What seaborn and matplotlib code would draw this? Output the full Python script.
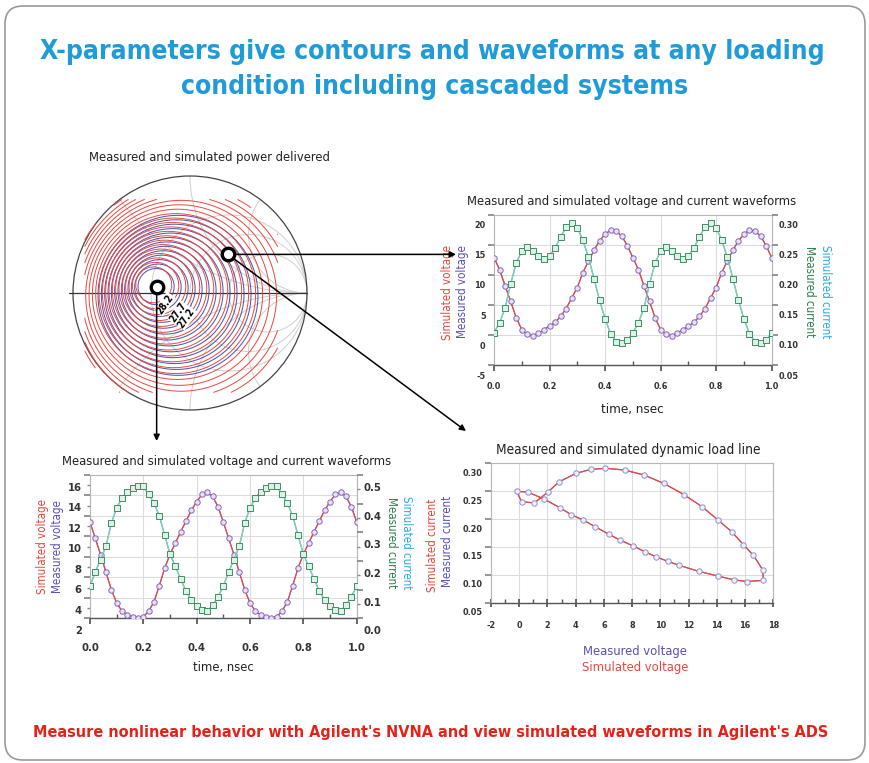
import numpy as np
import pandas as pd
import matplotlib
matplotlib.use("Agg")
import matplotlib.pyplot as plt
import seaborn as sns
from matplotlib import font_manager
from matplotlib.patches import Circle, FancyBboxPatch
from matplotlib.ticker import MultipleLocator, FormatStrFormatter
from matplotlib.transforms import ScaledTranslation, blended_transform_factory

# ---------------- data ----------------
# one period (0.5 ns) of the waveforms, sampled every 0.02 ns
T_NS = [0.00, 0.02, 0.04, 0.06, 0.08, 0.10, 0.12, 0.14, 0.16, 0.18, 0.20, 0.22,
        0.24, 0.26, 0.28, 0.30, 0.32, 0.34, 0.36, 0.38, 0.40, 0.42, 0.44, 0.46, 0.48]
PERIOD_NS = 0.5

# upper-right chart (load at the second marker)
V_LOAD = [12.9, 10.9, 8.2, 5.6, 2.9, 0.9, 0.1, -0.1, 0.3, 0.9, 1.5, 2.1,
          3.1, 4.4, 6.2, 7.9, 10.4, 12.3, 14.1, 15.7, 16.8, 17.5, 17.3, 16.5, 14.9]
I_LOAD = [0.104, 0.120, 0.145, 0.185, 0.220, 0.240, 0.247, 0.240, 0.231, 0.226, 0.232, 0.245,
          0.264, 0.280, 0.287, 0.279, 0.258, 0.230, 0.194, 0.158, 0.127, 0.102, 0.089, 0.087, 0.091]

# lower-left chart (load at the optimum)
V_MATCH = [11.4, 9.8, 8.2, 6.5, 4.8, 3.5, 2.7, 2.35, 2.15, 2.05, 2.15, 2.7,
           3.6, 5.2, 6.9, 8.25, 9.35, 10.45, 11.5, 12.55, 13.4, 14.1, 14.3, 13.9, 12.9]
I_MATCH = [0.112, 0.162, 0.205, 0.252, 0.332, 0.385, 0.420, 0.442, 0.455, 0.462, 0.460, 0.432,
           0.402, 0.357, 0.290, 0.224, 0.181, 0.137, 0.095, 0.063, 0.043, 0.029, 0.026, 0.045, 0.076]

# dynamic load line, points in drawing order
V_LL = [-0.19, 0.17, 1.07, 2.01, 2.84, 4.03, 5.05, 6.11, 7.46, 8.84, 10.24, 11.66, 12.96,
        14.05, 15.07, 15.88, 16.59, 17.25, 17.3, 16.11, 15.21, 14.05, 12.75, 11.33, 10.55,
        9.72, 8.93, 8.06, 7.16, 6.33, 5.40, 4.55, 3.67, 2.91, 1.75, 0.64]
I_LL = [0.250, 0.231, 0.229, 0.248, 0.267, 0.282, 0.289, 0.291, 0.288, 0.279, 0.264, 0.244,
        0.222, 0.199, 0.177, 0.154, 0.135, 0.109, 0.090, 0.088, 0.091, 0.098, 0.106, 0.117,
        0.124, 0.132, 0.141, 0.152, 0.162, 0.173, 0.186, 0.198, 0.208, 0.220, 0.236, 0.248]

# power delivered contours (dBm), 0.5 dB apart
POWER_LEVELS = [28.2, 27.7, 27.2, 26.7, 26.2, 25.7, 25.2, 24.7, 24.2, 23.7, 23.2,
                22.7, 22.2, 21.7, 21.2, 20.7, 20.2, 19.7, 19.2, 18.7, 18.2]
N_MEASURED = 13
LABEL_LEVELS = ["28.2", "27.7", "27.2"]
LABEL_SPOTS = [(-0.215, -0.095), (-0.105, -0.165), (-0.03, -0.215)]
MARK_OPT = (-0.285, 0.054)    # reflection coefficient of the optimum load
MARK_LOAD = (0.325, 0.33)     # reflection coefficient of the second load

# contour model: nested circles whose centres drift from C_IN to C_OUT
C_IN, C_OUT = (-0.31, 0.07), (-0.06, -0.03)
RHO_IN, RHO_OUT = 0.155, 0.86
# simulated region: octagon around (-0.07, -0.03)
REGION_C, REGION_HALF, REGION_DIAG = (-0.07, -0.03), (0.85, 0.86), 1.38

SMITH_R = [0.5, 1.0, 2.0]
SMITH_X = [0.5, 1.0, 2.0]

# ---------------- style ----------------
sns.set_theme(style="white")
names = {f.name for f in font_manager.fontManager.ttflist}
NARROW = "Liberation Sans Narrow" if "Liberation Sans Narrow" in names else "DejaVu Sans"
plt.rcParams["font.family"] = [NARROW, "DejaVu Sans"]
plt.rcParams["font.stretch"] = "condensed"

TITLE_BLUE = "#1f9bd7"
FOOT_RED = "#e2231a"
SIM_V = "#e8473f"
MEAS_V = "#5a4fb0"
MEAS_I = "#2e7d4f"
SIM_I = "#2aa9e0"
I_LINE = "#7fcfc0"
GRID = "#dcdcdc"
TXT = "#222222"

W, H = 870, 763
fig = plt.figure(figsize=(W / 100, H / 100), dpi=100)
fig.patch.set_facecolor("white")


def px_axes(left, top, right, bottom, **kw):
    return fig.add_axes([left / W, 1 - bottom / H, (right - left) / W, (bottom - top) / H], **kw)


def ftext(x, y, s, **kw):
    kw.setdefault("ha", "center")
    kw.setdefault("va", "center")
    kw.setdefault("color", TXT)
    fig.text(x / W, 1 - y / H, s, **kw)


def drop_labels(axis_labels, dy):
    off = ScaledTranslation(0, -dy / 100, fig.dpi_scale_trans)
    for lab in axis_labels:
        lab.set_transform(lab.get_transform() + off)


def periodic(vals):
    t = np.concatenate([T_NS, np.array(T_NS) + PERIOD_NS, [1.0]])
    v = np.concatenate([vals, vals, vals[:1]])
    return pd.DataFrame({"t": t, "v": v})


def frame(ax, ax2=None):
    for sp in ax.spines.values():
        sp.set_color("#b5b5b5")
        sp.set_linewidth(0.8)
    ax.spines["bottom"].set_color("#555555")
    ax.spines["bottom"].set_linewidth(1.0)
    if ax2 is not None:
        for sp in ax2.spines.values():
            sp.set_visible(False)
    ax.grid(True, which="major", color=GRID, lw=0.8)
    ax.set_xlabel("")
    ax.set_ylabel("")


def waveform_chart(box, vdata, idata, vlim, ilim, vstep, vminor, istep, iminor,
                   fs, xpad, ydrop, ifmt):
    ax = px_axes(*box)
    dv, di = periodic(vdata), periodic(idata)
    sns.lineplot(data=dv, x="t", y="v", ax=ax, estimator=None, color=MEAS_V, lw=0.8, alpha=0.8)
    sns.lineplot(data=dv, x="t", y="v", ax=ax, estimator=None, color=SIM_V, lw=0.9)
    sns.scatterplot(data=dv, x="t", y="v", ax=ax, marker="o", s=15, color="#ecdff4",
                    edgecolor="#8068b8", linewidth=0.7, zorder=3)
    ax.set_xlim(0, 1)
    ax.set_ylim(*vlim)
    ax2 = ax.twinx()
    sns.lineplot(data=di, x="t", y="v", ax=ax2, estimator=None, color=MEAS_I, lw=0.8, alpha=0.8)
    sns.lineplot(data=di, x="t", y="v", ax=ax2, estimator=None, color=I_LINE, lw=1.0)
    sns.scatterplot(data=di, x="t", y="v", ax=ax2, marker="s", s=16, color="#ddf1e7",
                    edgecolor="#3f8f66", linewidth=0.7, zorder=3)
    ax2.set_ylim(*ilim)
    frame(ax, ax2)
    ax2.set_ylabel("")

    ax.xaxis.set_major_locator(MultipleLocator(0.2))
    ax.xaxis.set_minor_locator(MultipleLocator(0.1))
    ax.xaxis.set_major_formatter(FormatStrFormatter("%.1f"))
    ax.yaxis.set_major_locator(MultipleLocator(vstep))
    ax.yaxis.set_minor_locator(MultipleLocator(vminor))
    ax.yaxis.set_major_formatter(FormatStrFormatter("%d"))
    ax2.yaxis.set_major_locator(MultipleLocator(istep))
    ax2.yaxis.set_minor_locator(MultipleLocator(iminor))
    ax2.yaxis.set_major_formatter(FormatStrFormatter(ifmt))
    ax.tick_params(axis="x", which="major", bottom=True, direction="out", length=4,
                   color="#555555", labelsize=fs, pad=xpad)
    ax.tick_params(axis="x", which="minor", bottom=True, direction="in", length=3, color="#555555")
    ax.tick_params(axis="y", which="both", left=True, direction="out", color="#888888",
                   labelsize=fs, pad=2)
    ax.tick_params(axis="y", which="major", length=4)
    ax.tick_params(axis="y", which="minor", length=2.5)
    ax2.tick_params(axis="y", which="both", right=True, direction="out", color="#888888",
                    labelsize=fs, pad=1)
    ax2.tick_params(axis="y", which="major", length=4)
    ax2.tick_params(axis="y", which="minor", length=2.5)
    for lab in ax.get_xticklabels() + ax.get_yticklabels() + ax2.get_yticklabels():
        lab.set_fontweight("bold")
        lab.set_color("#333333")
    drop_labels(ax.get_yticklabels(), ydrop)
    drop_labels(ax2.get_yticklabels(), ydrop)
    return ax, ax2


# ---------------- overlay for border, headlines, arrows ----------------
ov = fig.add_axes([0, 0, 1, 1], zorder=10)
ov.set_xlim(0, W)
ov.set_ylim(H, 0)
ov.axis("off")
ov.patch.set_alpha(0)
ov.add_patch(FancyBboxPatch((5, 6), 860, 754, boxstyle="round,pad=0,rounding_size=18",
                            fill=False, ec="#9a9a9a", lw=1.2))

ftext(432, 52, "X-parameters give contours and waveforms at any loading",
      fontsize=19, fontweight="bold", color=TITLE_BLUE)
ftext(435, 87, "condition including cascaded systems",
      fontsize=19, fontweight="bold", color=TITLE_BLUE)
ftext(431, 733, "Measure nonlinear behavior with Agilent's NVNA and view simulated waveforms in Agilent's ADS",
      fontsize=11.6, fontweight="bold", color=FOOT_RED)

# ---------------- Smith chart with power contours ----------------
ax_s = px_axes(65, 168, 315, 418)
lim = 125 / 117
ax_s.set_xlim(-lim, lim)
ax_s.set_ylim(-lim, lim)
ax_s.set_aspect("equal")
ax_s.axis("off")

unit = Circle((0, 0), 1, transform=ax_s.transData)
for r in SMITH_R:
    c = Circle((r / (1 + r), 0), 1 / (1 + r), fill=False, ec="#cfcfcf", lw=0.7)
    ax_s.add_patch(c)
    c.set_clip_path(unit)
for x in SMITH_X:
    for sgn in (1, -1):
        c = Circle((1, sgn / x), 1 / x, fill=False, ec="#cfcfcf", lw=0.7)
        ax_s.add_patch(c)
        c.set_clip_path(unit)
ax_s.add_patch(Circle((0, 0), 1, fill=False, ec="#444444", lw=0.9))
ax_s.plot([-1.03, 1.0], [0, 0], color="#333333", lw=0.9)


def power_field(n, shift=(0.0, 0.0)):
    g = np.linspace(-1, 1, n)
    gx, gy = np.meshgrid(g, g)
    ux = (C_OUT[0] - C_IN[0]) / (RHO_OUT - RHO_IN)
    uy = (C_OUT[1] - C_IN[1]) / (RHO_OUT - RHO_IN)
    g0x = C_IN[0] - RHO_IN * ux + shift[0]
    g0y = C_IN[1] - RHO_IN * uy + shift[1]
    wx, wy = gx - g0x, gy - g0y
    wu = wx * ux + wy * uy
    uu = ux ** 2 + uy ** 2
    rho = (-wu + np.sqrt(wu ** 2 + (1 - uu) * (wx ** 2 + wy ** 2))) / (1 - uu)
    step = (RHO_OUT - RHO_IN) / 16
    p = POWER_LEVELS[0] - 0.5 * (rho - RHO_IN) / step
    return gx, gy, p


gx, gy, p_meas = power_field(61, shift=(0.02, -0.015))
ax_s.contour(gx, gy, p_meas, levels=sorted(POWER_LEVELS[:N_MEASURED]), colors="#4646a0",
             linewidths=0.75, alpha=0.9)

gx, gy, p_sim = power_field(41)
dx, dy = np.abs(gx - REGION_C[0]), np.abs(gy - REGION_C[1])
outside = (dx > REGION_HALF[0]) | (dy > REGION_HALF[1]) | (dx + dy > REGION_DIAG)
p_sim = np.where(outside, np.nan, p_sim)
ax_s.contour(gx, gy, p_sim, levels=sorted(POWER_LEVELS), colors=SIM_V, linewidths=0.7)

for txt, (lx, ly) in zip(LABEL_LEVELS, LABEL_SPOTS):
    ax_s.text(lx, ly, txt, rotation=55, fontsize=7, fontweight="bold", color="black",
              ha="center", va="center", family="DejaVu Sans",
              bbox=dict(boxstyle="square,pad=0.05", fc="white", ec="none"))
for m in (MARK_OPT, MARK_LOAD):
    ax_s.plot([m[0]], [m[1]], marker="o", ms=9, mfc="white", mec="black", mew=2.4, zorder=6)

ftext(209, 157, "Measured and simulated power delivered", fontsize=9.3)

# arrows from the markers to the charts
arrow = dict(arrowstyle="-|>", color="black", lw=1.1, shrinkA=5, shrinkB=0, mutation_scale=9)
ov.annotate("", xy=(456, MARK_LOAD[1]), xycoords=blended_transform_factory(ov.transData, ax_s.transData),
            xytext=MARK_LOAD, textcoords=ax_s.transData, arrowprops=arrow)
ov.annotate("", xy=(466, 431), xytext=MARK_LOAD, textcoords=ax_s.transData, arrowprops=arrow)
ov.annotate("", xy=(MARK_OPT[0], 441), xycoords=blended_transform_factory(ax_s.transData, ov.transData),
            xytext=MARK_OPT, textcoords=ax_s.transData, arrowprops=arrow)

# ---------------- upper-right waveforms ----------------
waveform_chart((494, 215, 771.7, 365), V_LOAD, I_LOAD, (-5, 20), (0.05, 0.30),
               5, 5, 0.05, 0.05, 6.5, 8, 10, "%.2f")
ftext(632, 202, "Measured and simulated voltage and current waveforms", fontsize=9.3)
ftext(632, 409, "time, nsec", fontsize=9.5)
ftext(448, 292, "Simulated voltage", rotation=90, fontsize=8.3, color=SIM_V)
ftext(463, 292, "Measured voltage", rotation=90, fontsize=8.3, color=MEAS_V)
ftext(810, 292, "Measured current", rotation=270, fontsize=8.3, color=MEAS_I)
ftext(826, 292, "Simulated current", rotation=270, fontsize=8.3, color=SIM_I)

# ---------------- lower-left waveforms ----------------
waveform_chart((90, 475, 356.7, 618.3), V_MATCH, I_MATCH, (2, 16), (0.0, 0.5),
               2, 1, 0.1, 0.05, 8, 14, 12, "%.1f")
ftext(227, 461, "Measured and simulated voltage and current waveforms", fontsize=9.3)
ftext(223, 668, "time, nsec", fontsize=9.3)
ftext(43, 547, "Simulated voltage", rotation=90, fontsize=8.3, color=SIM_V)
ftext(57, 547, "Measured voltage", rotation=90, fontsize=8.3, color=MEAS_V)
ftext(392, 543, "Measured current", rotation=270, fontsize=8.3, color=MEAS_I)
ftext(407, 543, "Simulated current", rotation=270, fontsize=8.3, color=SIM_I)

# ---------------- lower-right dynamic load line ----------------
ax_l = px_axes(491, 463.3, 773.3, 602.7)
loop = pd.DataFrame({"v": V_LL + V_LL[:1], "i": I_LL + I_LL[:1]})
sns.lineplot(data=loop, x="v", y="i", ax=ax_l, sort=False, estimator=None,
             color=MEAS_V, lw=0.8, alpha=0.8)
sns.lineplot(data=loop, x="v", y="i", ax=ax_l, sort=False, estimator=None,
             color=SIM_V, lw=0.9)
sns.scatterplot(data=loop.iloc[:-1], x="v", y="i", ax=ax_l, marker="o", s=15, color="#f1f1fa",
                edgecolor="#8f8fca", linewidth=0.7, zorder=3)
ax_l.set_xlim(-2, 18)
ax_l.set_ylim(0.05, 0.30)
frame(ax_l)
ax_l.xaxis.set_major_locator(MultipleLocator(2))
ax_l.xaxis.set_minor_locator(MultipleLocator(1))
ax_l.xaxis.set_major_formatter(FormatStrFormatter("%d"))
ax_l.yaxis.set_major_locator(MultipleLocator(0.05))
ax_l.yaxis.set_major_formatter(FormatStrFormatter("%.2f"))
ax_l.tick_params(axis="x", which="major", bottom=True, direction="inout", length=6,
                 color="#555555", labelsize=6.5, pad=10)
ax_l.tick_params(axis="x", which="minor", bottom=True, direction="in", length=3, color="#555555")
ax_l.tick_params(axis="y", left=True, direction="out", length=4, color="#888888",
                 labelsize=6.5, pad=2)
for lab in ax_l.get_xticklabels() + ax_l.get_yticklabels():
    lab.set_fontweight("bold")
    lab.set_color("#333333")
drop_labels(ax_l.get_yticklabels(), 9)
ftext(628, 450, "Measured and simulated dynamic load line", fontsize=9.8)
ftext(635, 652, "Measured voltage", fontsize=9.3, color=MEAS_V)
ftext(635, 667, "Simulated voltage", fontsize=9.3, color=SIM_V)
ftext(433, 545, "Simulated current", rotation=90, fontsize=8.3, color=SIM_V)
ftext(448, 541, "Measured current", rotation=90, fontsize=8.3, color=MEAS_V)

fig.savefig("out.png", dpi=100)
